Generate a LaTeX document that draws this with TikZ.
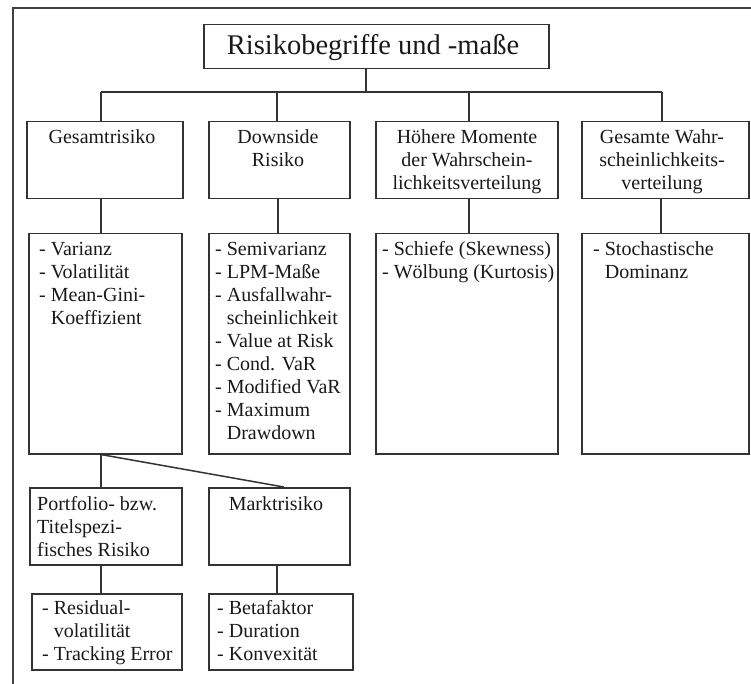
\documentclass[tikz,border=0pt]{standalone}
\usepackage{fontspec}
\setmainfont{Liberation Serif}
\tikzset{
  x=1pt, y=-1pt,
  box/.style={draw=black!80, line width=1.5pt, inner sep=0pt, anchor=north west, minimum height=77pt},
  link/.style={draw=black!80, line width=1.5pt},
  frameline/.style={draw=black!75, line width=1.8pt},
  lbl/.style={inner sep=0pt, text=black!90, font=\fontsize{20}{23}\selectfont},
  lbll/.style={lbl, anchor=base west},
  lblc/.style={lbl, anchor=base},
}
\newcommand\ind{\hphantom{- }}
\begin{document}
\begin{tikzpicture}
\useasboundingbox (0,0) rectangle (751,684);
% outer frame (top and left edges)
\coordinate (fl) at (13,684);
\coordinate (fc) at (13,8);
\coordinate (fr) at (751,8);
\draw[frameline] (fl) -- (fc) -- (fr);

% title
\node[box, minimum width=345pt, minimum height=44pt] (title) at (203,24) {};
\node[lblc, font=\fontsize{28.5}{32}\selectfont] (ttitle) at (373,55) {Risikobegriffe und -maße};

% first level
\node[box, minimum width=156pt] (g1) at (26,121) {};
\node[box, minimum width=141pt] (g2) at (208,121) {};
\node[box, minimum width=182pt] (g3) at (375,121) {};
\node[box, minimum width=167pt] (g4) at (581,121) {};
\node[lblc] (tg1) at (102,144) {Gesamtrisiko};
\node[lblc] (tg2) at (278,144) {\begin{tabular}[t]{@{}c@{}}Downside\\Risiko\end{tabular}};
\node[lblc] (tg3) at (467,144) {\begin{tabular}[t]{@{}c@{}}Höhere Momente\\der Wahrschein-\\lichkeitsverteilung\end{tabular}};
\node[lblc] (tg4) at (662,144) {\begin{tabular}[t]{@{}c@{}}Gesamte Wahr-\\scheinlichkeits-\\verteilung\end{tabular}};

% second level: lists of measures
\node[box, minimum width=153pt, minimum height=220pt] (l1) at (28,233) {};
\node[box, minimum width=141pt, minimum height=220pt] (l2) at (208,233) {};
\node[box, minimum width=182pt, minimum height=220pt] (l3) at (375,233) {};
\node[box, minimum width=167pt, minimum height=220pt] (l4) at (581,233) {};
\node[lbll] (tl1) at (39,255) {\begin{tabular}[t]{@{}l@{}}- Varianz\\- Volatilität\\- Mean-Gini-\\\ind Koeffizient\end{tabular}};
\node[lbll] (tl2) at (215,255) {\begin{tabular}[t]{@{}l@{}}- Semivarianz\\- LPM-Maße\\- Ausfallwahr-\\\ind scheinlichkeit\\- Value at Risk\\- Cond. VaR\\- Modified VaR\\- Maximum\\\ind Drawdown\end{tabular}};
\node[lbll] (tl3) at (382,255) {\begin{tabular}[t]{@{}l@{}}- Schiefe (Skewness)\\- Wölbung (Kurtosis)\end{tabular}};
\node[lbll] (tl4) at (593,255) {\begin{tabular}[t]{@{}l@{}}- Stochastische\\\ind Dominanz\end{tabular}};

% split of total risk
\node[box, minimum width=152pt] (p1) at (29,487) {};
\node[box, minimum width=141pt] (p2) at (208,487) {};
\node[lbll] (tp1) at (37,510) {\begin{tabular}[t]{@{}l@{}}Portfolio- bzw.\\Titelspezi-\\fisches Risiko\end{tabular}};
\node[lblc] (tp2) at (276,510) {Marktrisiko};

\node[box, minimum width=150pt, minimum height=76pt] (r1) at (31,593) {};
\node[box, minimum width=144pt, minimum height=76pt] (r2) at (208,593) {};
\node[lbll] (tr1) at (42,614) {\begin{tabular}[t]{@{}l@{}}- Residual-\\\ind volatilität\\- Tracking Error\end{tabular}};
\node[lbll] (tr2) at (217,614) {\begin{tabular}[t]{@{}l@{}}- Betafaktor\\- Duration\\- Konvexität\end{tabular}};

% bus below the title
\coordinate (j0) at (366,92);
\coordinate (j1) at (101,92);
\coordinate (j2) at (277,92);
\coordinate (j3) at (469,92);
\coordinate (j4) at (662,92);
\draw[link] (title.south -| j0) -- (j0);
\draw[link] (j1) -- (j4);
\draw[link] (j1) -- (g1.north -| j1);
\draw[link] (j2) -- (g2.north -| j2);
\draw[link] (j3) -- (g3.north -| j3);
\draw[link] (j4) -- (g4.north -| j4);

% first to second level
\draw[link] ([xshift=-4pt]g1.south) -- ([xshift=-4.5pt]l1.north);
\draw[link] ([xshift=-1.5pt]g2.south) -- ([xshift=-1.5pt]l2.north);
\draw[link] ([xshift=2pt]g3.south) -- ([xshift=2pt]l3.north);
\draw[link] ([xshift=-4.5pt]g4.south) -- ([xshift=-4.5pt]g4.south |- l4.north);

% total risk split
\draw[link] ([xshift=-4.5pt]l1.south) -- ([xshift=-5pt]p1.north);
\draw[link] ([xshift=-4.5pt]l1.south) -- ([xshift=4.5pt]p2.north);
\draw[link] ([xshift=-5pt]p1.south) -- ([xshift=-6pt]r1.north);
\draw[link] ([xshift=-2.5pt]p2.south) -- ([xshift=-2.5pt]p2.south |- r2.north);
\end{tikzpicture}
\end{document}
